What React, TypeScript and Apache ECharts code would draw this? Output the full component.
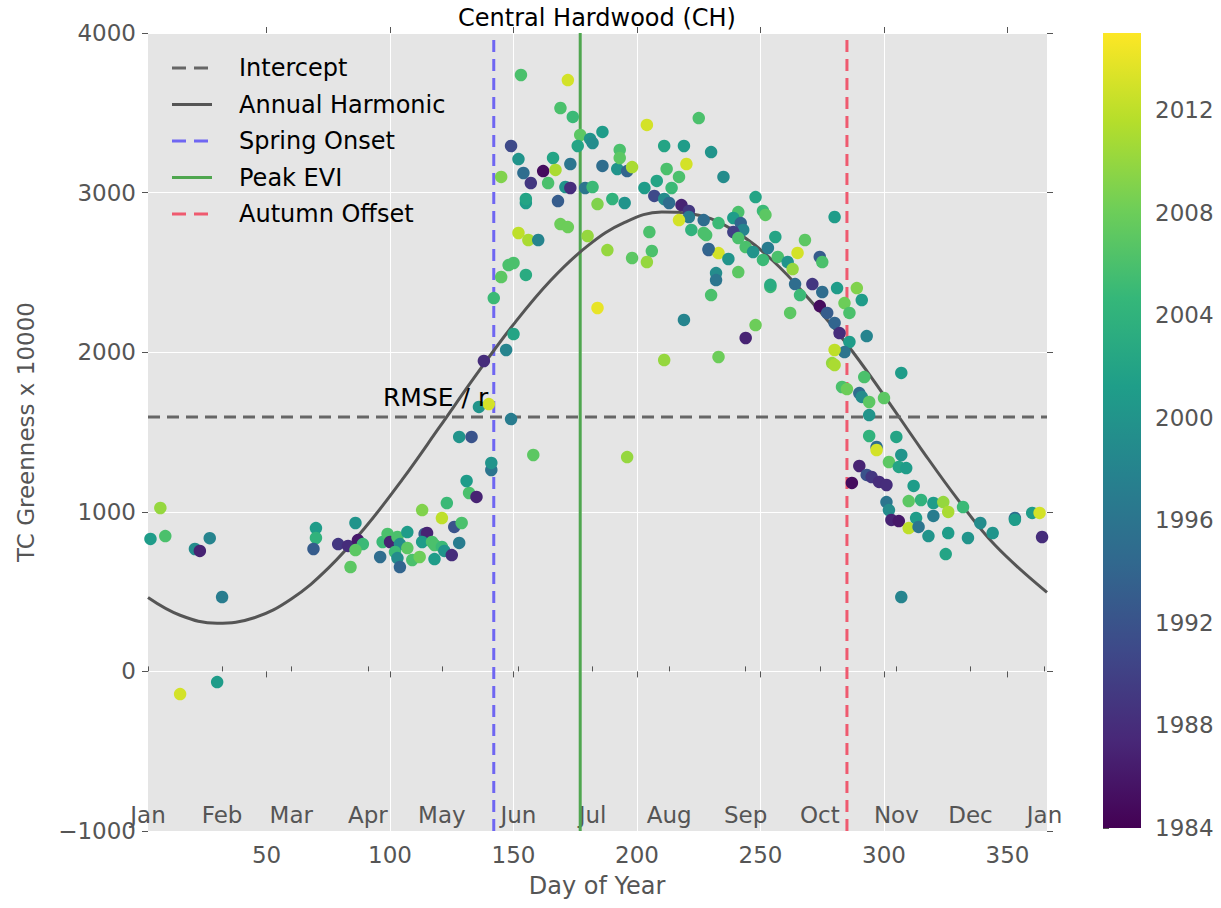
import React, { useEffect, useRef } from 'react';
import * as echarts from 'echarts';

const FONT = 'DejaVu Sans';

const X_MIN = 2;
const X_MAX = 366;
const Y_MIN = -1000;
const Y_MAX = 4000;
const Y_STEP = 1000;
const YEAR_MIN = 1984;
const YEAR_MAX = 2015;

const DAY_TICKS = [50, 100, 150, 200, 250, 300, 350];
const MONTH_DAYS = [2, 32, 60, 91, 121, 152, 182, 213, 244, 274, 305, 335, 365];
const MONTH_NAMES = ['Jan', 'Feb', 'Mar', 'Apr', 'May', 'Jun', 'Jul', 'Aug', 'Sep', 'Oct', 'Nov', 'Dec', 'Jan'];
const YEAR_TICKS = [1984, 1988, 1992, 1996, 2000, 2004, 2008, 2012];

const INTERCEPT = 1594;
const SPRING_ONSET = 142;
const PEAK_EVI = 177;
const AUTUMN_OFFSET = 285;

const HARMONIC_DAYS = [2, 15, 30, 45, 60, 75, 90, 105, 120, 135, 150, 165, 180, 195, 210, 225, 240, 255, 270, 285, 300, 315, 330, 345, 366];
const HARMONIC_VALUES = [463, 352, 301, 336, 454, 647, 903, 1203, 1530, 1861, 2174, 2449, 2666, 2813, 2878, 2858, 2754, 2573, 2327, 2050, 1730, 1395, 1075, 790, 495];

const OBS_DAYS = [
  7, 3, 9, 21, 23, 27, 32, 30, 15,
  70, 70, 69, 79, 83, 86, 87, 89, 86, 84, 96, 97, 99, 100, 103, 104, 102, 103, 104, 107, 107, 109, 112, 113, 114, 115, 113, 117, 118, 118, 121, 122, 125, 121, 126, 129, 128, 123, 132, 135, 131, 141, 141, 128, 133, 136, 140, 149, 158, 138, 147, 150,
  153, 172, 169, 174, 177, 176, 181, 182, 186, 149, 152, 154, 157, 162, 166, 167, 164, 173, 171, 173, 168, 179, 182, 145, 155, 155, 184, 186, 190, 192, 195, 193, 193, 196, 198, 204, 211, 219, 225, 230, 235, 212, 220, 217, 208, 203, 214, 207, 211, 213, 218, 221, 221, 217, 222, 227, 233, 228, 229, 233, 237, 232, 232, 241, 230, 205, 206, 198, 204, 188, 180, 169, 172, 152, 156, 160, 148, 150, 145, 155, 142, 184, 219, 248, 244, 211, 233, 196,
  248, 251, 252, 241, 239, 242, 243, 239, 227, 229, 241, 244, 247, 251, 253, 256, 257, 261, 263, 265, 268, 274, 275, 280, 254, 254, 264, 266, 271, 275, 281, 289, 291, 284, 286, 274, 277, 280, 282, 286, 284, 280, 279, 280, 293, 307, 292, 283, 285, 290, 291, 294, 300, 294, 294, 297, 297, 305, 307, 302, 306, 309, 290, 287, 293, 295, 298, 301, 301, 302, 303, 306, 310, 310, 312, 315, 313, 314, 320, 320, 324, 326, 318, 326, 325, 332, 334, 339, 344, 353, 353, 360, 363, 364, 307, 262
];
const OBS_VALUES = [
  1024, 830, 848, 767, 755, 835, 466, -67, -142,
  898, 836, 767, 798, 786, 930, 823, 798, 760, 654, 717, 811, 861, 811, 842, 798, 748, 710, 654, 873, 773, 698, 717, 1011, 861, 867, 811, 811, 792, 704, 780, 755, 729, 961, 905, 930, 805, 1055, 1118, 1093, 1193, 1262, 1306, 1469, 1469, 1657, 1675, 1581, 1356, 1945, 2014, 2114,
  3737, 3705, 3530, 3474, 3361, 3292, 3336, 3311, 3380, 3292, 3210, 3123, 3060, 3135, 3217, 3142, 3060, 3179, 3035, 3029, 2947, 3029, 3035, 3098, 2935, 2960, 2928, 3167, 2960, 3148, 2935, 3267, 3217, 3135, 3160, 3424, 3292, 3292, 3467, 3254, 3098, 3148, 3179, 3098, 3073, 3029, 3029, 2979, 2960, 2935, 2922, 2885, 2847, 2828, 2766, 2828, 2809, 2734, 2640, 2621, 2584, 2496, 2452, 2502, 2358, 2753, 2634, 2590, 2565, 2640, 2728, 2803, 2784, 2747, 2703, 2703, 2546, 2559, 2471, 2484, 2339, 2277, 2202, 2170, 2089, 1951, 1970, 1343,
  2972, 2885, 2860, 2878, 2841, 2809, 2766, 2753, 2747, 2647, 2715, 2659, 2628, 2578, 2653, 2722, 2597, 2565, 2521, 2622, 2703, 2597, 2565, 2847, 2409, 2422, 2427, 2358, 2427, 2377, 2402, 2402, 2327, 2308, 2246, 2289, 2246, 2183, 2120, 2064, 2001, 2014, 1932, 1920, 2101, 1870, 1844, 1782, 1769, 1744, 1720, 1688, 1713, 1606, 1475, 1406, 1387, 1469, 1356, 1312, 1281, 1274, 1287, 1181, 1231, 1218, 1187, 1168, 1061, 1011, 949, 942, 898, 1067, 1162, 1074, 961, 905, 1055, 974, 1061, 999, 848, 867, 735, 1030, 836, 930, 867, 961, 950, 993, 993, 842, 466, 2246
];
const OBS_YEARS = [
  2010, 2001, 2006, 1999, 1987, 1998, 1997, 2001, 2013,
  2001, 2004, 1993, 1989, 1988, 2000, 1986, 2005, 2007, 2007, 1995, 2005, 2006, 1987, 2006, 1999, 2005, 1999, 1994, 2001, 2007, 2006, 2008, 2009, 1993, 1987, 2001, 2006, 2006, 2001, 2005, 2000, 1988, 2012, 1992, 2006, 1997, 2005, 2006, 1987, 2001, 1996, 2000, 2000, 1992, 2000, 2013, 1997, 2007, 1988, 1998, 2002,
  2006, 2013, 2006, 2005, 2007, 2002, 2000, 1999, 2001, 1991, 2000, 1995, 1989, 1985, 2002, 2011, 2006, 1996, 2000, 1988, 1993, 1996, 2005, 2009, 2001, 2002, 2009, 1995, 2004, 2000, 2000, 2006, 2007, 1994, 2011, 2013, 2002, 2001, 2006, 2000, 1999, 2006, 2013, 2006, 2002, 2001, 2005, 1991, 1999, 1995, 1987, 1989, 1997, 2013, 2004, 1995, 2005, 2006, 1993, 2013, 2000, 1999, 1996, 2007, 2006, 2006, 2006, 2007, 2010, 2010, 2010, 2008, 2008, 2012, 2011, 1998, 2006, 2006, 2007, 2003, 2005, 2014, 1998, 2008, 1987, 2010, 2008, 2010,
  2002, 2005, 2007, 2006, 2001, 1994, 1998, 1990, 2006, 1994, 2006, 2006, 2000, 2005, 1997, 2002, 2006, 2000, 2010, 2013, 2007, 1993, 2006, 2001, 2005, 2003, 1995, 2005, 1989, 1995, 2001, 2009, 2001, 2008, 2006, 1985, 1993, 1994, 1988, 2001, 1996, 2012, 2010, 2011, 1998, 2001, 2006, 2006, 2008, 1995, 1999, 2007, 2007, 2000, 2004, 1995, 2013, 2002, 2000, 2007, 2002, 2001, 1987, 1985, 1992, 1989, 1988, 1988, 1996, 1999, 1987, 1986, 2012, 2007, 2001, 2004, 2001, 1996, 2001, 1997, 2010, 2011, 2000, 2001, 2002, 2005, 2000, 1999, 2000, 1995, 2001, 2001, 2013, 1988, 1998, 2007
];

const VIRIDIS = ['#440154', '#482878', '#3e4989', '#31688e', '#26828e', '#1f9e89', '#35b779', '#6ece58', '#b5de2b', '#fde725'];

const C_INTERCEPT = '#666666';
const C_HARMONIC = '#555555';
const C_SPRING = '#6f66f2';
const C_PEAK = '#4fa64f';
const C_AUTUMN = '#ef5a6f';
const TICK_COLOR = '#555555';

const LEGEND_ITEMS = [
  { name: 'Intercept', color: C_INTERCEPT, dash: [14, 8] },
  { name: 'Annual Harmonic', color: C_HARMONIC, dash: null },
  { name: 'Spring Onset', color: C_SPRING, dash: [14, 8] },
  { name: 'Peak EVI', color: C_PEAK, dash: null },
  { name: 'Autumn Offset', color: C_AUTUMN, dash: [14, 8] },
];

const fmtNum = (v: number) => (v < 0 ? '\u2212' + Math.abs(v) : String(v));

function vline(name: string, x: number, color: string, dashed: boolean) {
  return {
    name,
    type: 'line',
    data: [[x, Y_MIN], [x, Y_MAX]],
    symbol: 'none',
    silent: true,
    z: 3,
    lineStyle: { color, width: 3, type: dashed ? [12, 7] : 'solid' },
  };
}

export default function App() {
  const ref = useRef<HTMLDivElement>(null);
  useEffect(() => {
    if (!ref.current) return;
    const chart = echarts.init(ref.current, undefined, { renderer: 'svg' });
    const scatterData = OBS_DAYS.map((d, i) => [d, OBS_VALUES[i], OBS_YEARS[i]]);
    const harmonic = HARMONIC_DAYS.map((d, i) => [d, HARMONIC_VALUES[i]]);

    const graphics: any[] = [
      {
        type: 'text', x: 597, y: 18, z: 100,
        style: { text: 'Central Hardwood (CH)', font: `24px "${FONT}"`, fill: '#000', align: 'center', verticalAlign: 'middle' },
      },
      {
        type: 'text', x: 597, y: 886, z: 100,
        style: { text: 'Day of Year', font: `24px "${FONT}"`, fill: TICK_COLOR, align: 'center', verticalAlign: 'middle' },
      },
      {
        type: 'text', x: 26, y: 432, rotation: Math.PI / 2, z: 100,
        style: { text: 'TC Greenness x 10000', font: `23px "${FONT}"`, fill: TICK_COLOR, align: 'center', verticalAlign: 'middle' },
      },
      {
        type: 'text', x: 383, y: 397, z: 100,
        style: { text: 'RMSE / r', font: `25px "${FONT}"`, fill: '#000', align: 'left', verticalAlign: 'middle' },
      },
      {
        type: 'rect', x: 1103, y: 33, z: 100,
        shape: { width: 38, height: 795 },
        style: {
          fill: new echarts.graphic.LinearGradient(0, 1, 0, 0, VIRIDIS.map((c, i) => ({ offset: i / (VIRIDIS.length - 1), color: c }))),
        },
      },
    ];
    LEGEND_ITEMS.forEach((it, i) => {
      const y = 68 + i * 36.5;
      graphics.push({
        type: 'line', z: 100,
        shape: { x1: 172, y1: y, x2: 212, y2: y },
        style: { stroke: it.color, lineWidth: 3, lineDash: it.dash || undefined },
      });
      graphics.push({
        type: 'text', x: 239, y, z: 100,
        style: { text: it.name, font: `24px "${FONT}"`, fill: '#000', align: 'left', verticalAlign: 'middle' },
      });
    });

    const labelStyle = { fontFamily: FONT, fontSize: 23, color: TICK_COLOR };

    chart.setOption({
      animation: false,
      backgroundColor: '#ffffff',
      grid: [
        { left: 148, top: 33, width: 899, height: 798, show: true, backgroundColor: '#e5e5e5', borderWidth: 0 },
        { left: 1103, top: 33, width: 38, height: 795, show: false },
      ],
      xAxis: [
        {
          gridIndex: 0, type: 'value', min: X_MIN, max: X_MAX, position: 'bottom', splitNumber: 7,
          axisLine: { show: false },
          axisTick: { show: true, customValues: DAY_TICKS, length: 6, lineStyle: { color: TICK_COLOR } },
          axisLabel: { ...labelStyle, customValues: DAY_TICKS, margin: 12, formatter: fmtNum },
          splitLine: { show: true, showMinLine: false, showMaxLine: false, lineStyle: { color: '#ffffff', width: 1 } },
        },
        {
          gridIndex: 0, type: 'value', min: X_MIN, max: X_MAX, position: 'bottom',
          axisLine: { show: false },
          axisTick: { show: true, inside: true, customValues: MONTH_DAYS, length: 5, lineStyle: { color: TICK_COLOR } },
          axisLabel: {
            ...labelStyle, inside: true, customValues: MONTH_DAYS, margin: 5,
            formatter: (v: number) => MONTH_NAMES[MONTH_DAYS.indexOf(v)] || '',
          },
          splitLine: { show: false },
        },
        {
          gridIndex: 0, type: 'value', min: X_MIN, max: X_MAX, position: 'top',
          axisLine: { show: false },
          axisTick: { show: true, customValues: DAY_TICKS, length: 6, lineStyle: { color: TICK_COLOR } },
          axisLabel: { show: false },
          splitLine: { show: false },
        },
        { gridIndex: 1, type: 'value', min: 0, max: 1, show: false },
      ],
      yAxis: [
        {
          gridIndex: 0, type: 'value', min: Y_MIN, max: Y_MAX, interval: Y_STEP, position: 'left',
          axisLine: { show: false },
          axisTick: { show: true, length: 6, lineStyle: { color: TICK_COLOR } },
          axisLabel: { ...labelStyle, margin: 12, formatter: fmtNum },
          splitLine: { show: true, lineStyle: { color: '#ffffff', width: 1 } },
        },
        {
          gridIndex: 0, type: 'value', min: Y_MIN, max: Y_MAX, interval: Y_STEP, position: 'right',
          axisLine: { show: false },
          axisTick: { show: true, length: 6, lineStyle: { color: TICK_COLOR } },
          axisLabel: { show: false },
          splitLine: { show: false },
        },
        {
          gridIndex: 1, type: 'value', min: YEAR_MIN, max: YEAR_MAX, position: 'right',
          axisLine: { show: false },
          axisTick: { show: true, customValues: YEAR_TICKS, length: 6, lineStyle: { color: TICK_COLOR } },
          axisLabel: { ...labelStyle, customValues: YEAR_TICKS, margin: 14, formatter: (v: number) => String(v) },
          splitLine: { show: false },
        },
      ],
      visualMap: {
        type: 'continuous', show: false, seriesIndex: 0, dimension: 2,
        min: YEAR_MIN, max: YEAR_MAX, inRange: { color: VIRIDIS },
      },
      series: [
        {
          name: 'Observations', type: 'scatter', data: scatterData,
          xAxisIndex: 0, yAxisIndex: 0,
          symbol: 'circle', symbolSize: 12.5, z: 5,
          itemStyle: { opacity: 1 },
        },
        {
          name: 'Annual Harmonic', type: 'line', data: harmonic, smooth: 0.4,
          xAxisIndex: 0, yAxisIndex: 0,
          symbol: 'none', z: 4, silent: true,
          lineStyle: { color: C_HARMONIC, width: 3 },
        },
        {
          name: 'Intercept', type: 'line', data: [[X_MIN, INTERCEPT], [X_MAX, INTERCEPT]],
          xAxisIndex: 0, yAxisIndex: 0,
          symbol: 'none', z: 4, silent: true,
          lineStyle: { color: C_INTERCEPT, width: 3, type: [12, 7] },
        },
        vline('Spring Onset', SPRING_ONSET, C_SPRING, true),
        vline('Peak EVI', PEAK_EVI, C_PEAK, false),
        vline('Autumn Offset', AUTUMN_OFFSET, C_AUTUMN, true),
        { type: 'scatter', xAxisIndex: 3, yAxisIndex: 2, data: [], silent: true },
      ],
      graphic: graphics,
    });
    return () => chart.dispose();
  }, []);
  return (
    <div
      ref={ref}
      style={{ position: 'absolute', left: 0, top: 0, width: 1221, height: 908, background: '#fff' }}
    />
  );
}
